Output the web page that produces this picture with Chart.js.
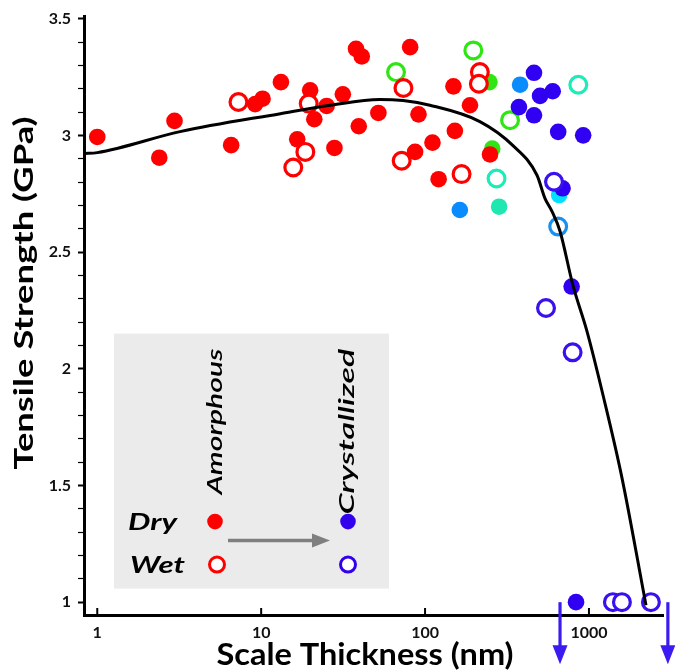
<!DOCTYPE html>
<html>
<head>
<meta charset="utf-8">
<script src="https://cdn.jsdelivr.net/npm/chart.js@4/dist/chart.umd.min.js"></script>
<style>
html,body{margin:0;padding:0;background:#fff;}
canvas{display:block;}
</style>
</head>
<body>
<canvas id="c" width="675" height="671"></canvas>
<script>
// ---- data (x: scale thickness in nm, y: tensile strength in GPa) ----
const thicknessTicks = [1, 10, 100, 1000];
const strengthTicks = [1, 1.5, 2, 2.5, 3, 3.5];
const strengthMinorTicks = [1,1.1,1.2,1.3,1.4,1.5,1.6,1.7,1.8,1.9,2,2.1,2.2,2.3,2.4,2.5,2.6,2.7,2.8,2.9,3,3.1,3.2,3.3,3.4,3.5];

const amorphousDry = [[1,2.994],[2.39,2.905],[2.96,3.063],[6.56,2.959],[9.19,3.135],[10.2,3.158],[13.2,3.229],[16.6,2.984],[19.9,3.194],[21.1,3.07],[25.1,3.127],[28,2.947],[31.5,3.177],[37.9,3.372],[41.1,3.339],[39.4,3.04],[51.9,3.097],[81.1,3.379],[91.2,3.091],[149,3.211],[188,3.13],[152,3.02],[111,2.97],[86.9,2.93],[121,2.813],[249,2.919]];
const amorphousWet = [[7.27,3.144],[19.5,3.137],[18.6,2.93],[15.7,2.863],[73.8,3.204],[72,2.892],[167,2.835],[216,3.272],[213,3.222]];
const transitionGreenDry = [[247,3.229],[257,2.944]];
const transitionGreenWet = [[66.5,3.272],[197,3.365],[330,3.066]];
const transitionMintDry = [[283,2.695]];
const transitionMintWet = [[273,2.816],[861,3.218]];
const transitionSkyDry = [[163,2.681],[380,3.218]];
const transitionCyanDry = [[658,2.745]];
const transitionSkyWet = [[649,2.61]];
const crystallizedDry = [[374,3.122],[462,3.269],[503,3.17],[601,3.19],[462,3.087],[649,3.016],[922,3.001],[690,2.774],[784,2.353],[834,1.0]];
const crystallizedWet = [[612,2.802],[547,2.261],[795,2.071],[1400,1.0],[1589,1.0],[2388,1.0]];
const fitCurve = [[0.83,2.923],[1,2.927],[3.2,3.017],[13.1,3.094],[26.4,3.13],[53,3.155],[73.5,3.15],[107,3.13],[216,3.06],[344,2.957],[482,2.83],[539,2.731],[595,2.675],[666,2.59],[798,2.359],[972,2.162],[1217,1.889],[1589,1.534],[2228,0.987]];
const offScaleArrows = [666, 3030];

const toXY = arr => arr.map(p => ({x: p[0], y: p[1]}));

function filled(data, color, order) {
  return {data: toXY(data), backgroundColor: color, borderColor: color, borderWidth: 0,
    pointRadius: 8.3, pointStyle: 'circle', showLine: false, order: order};
}
function hollow(data, color, order) {
  return {data: toXY(data), backgroundColor: '#ffffff', borderColor: color, borderWidth: 3.2,
    pointRadius: 8.4, pointStyle: 'circle', showLine: false, order: order};
}

function fitText(ctx, text, font, x, y, targetW, align, rotate) {
  ctx.save();
  ctx.translate(x, y);
  if (rotate) ctx.rotate(-Math.PI / 2);
  ctx.font = font;
  const w = ctx.measureText(text).width;
  ctx.scale(targetW / w, 1);
  ctx.textAlign = align;
  ctx.textBaseline = 'alphabetic';
  ctx.fillStyle = '#000';
  ctx.fillText(text, 0, 0);
  ctx.restore();
}

function dot(ctx, x, y, r, color, hollowRing) {
  ctx.beginPath();
  ctx.arc(x, y, r, 0, Math.PI * 2);
  if (hollowRing) {
    ctx.fillStyle = '#fff'; ctx.fill();
    ctx.lineWidth = 3; ctx.strokeStyle = color; ctx.stroke();
  } else {
    ctx.fillStyle = color; ctx.fill();
  }
}

const decorPlugin = {
  id: 'decor',
  beforeDatasetsDraw(chart) {
    const ctx = chart.ctx;
    const a = chart.chartArea;
    // legend box
    ctx.save();
    ctx.fillStyle = '#ebebeb';
    ctx.fillRect(a.left + 30, a.top + 317, 275, 255);
    ctx.restore();
  },
  afterDraw(chart) {
    const ctx = chart.ctx;
    const a = chart.chartArea;
    const xs = chart.scales.x, ys = chart.scales.y;
    // inward x ticks
    ctx.save();
    ctx.strokeStyle = '#000';
    ctx.lineWidth = 2;
    thicknessTicks.forEach(v => {
      const px = xs.getPixelForValue(v);
      ctx.beginPath(); ctx.moveTo(px, a.bottom); ctx.lineTo(px, a.bottom - 7); ctx.stroke();
    });
    ctx.restore();

    // off-scale arrows (blue)
    ctx.save();
    const arrowColor = '#3a1cf2';
    offScaleArrows.forEach(v => {
      const px = xs.getPixelForValue(v);
      const top = ys.getPixelForValue(1.0);
      const bot = top + 62;
      ctx.strokeStyle = arrowColor; ctx.fillStyle = arrowColor; ctx.lineWidth = 3.2;
      ctx.beginPath(); ctx.moveTo(px, top); ctx.lineTo(px, bot - 16); ctx.stroke();
      ctx.beginPath(); ctx.moveTo(px - 7.5, bot - 19); ctx.lineTo(px + 7.5, bot - 19); ctx.lineTo(px, bot); ctx.closePath(); ctx.fill();
    });
    ctx.restore();

    // legend contents
    const L = a.left, T = a.top;
    fitText(ctx, 'Amorphous', 'italic 600 21px Lato', L + 138, T + 332, 146, 'right', true);
    fitText(ctx, 'Crystallized', 'italic 600 21px Lato', L + 270, T + 332, 166, 'right', true);
    fitText(ctx, 'Dry', 'italic bold 22px Lato', L + 44, T + 513, 49, 'left', false);
    fitText(ctx, 'Wet', 'italic bold 22px Lato', L + 46, T + 556, 55, 'left', false);
    dot(ctx, L + 131, T + 505, 7.8, '#ff0000', false);
    dot(ctx, L + 133, T + 548, 7.5, '#ff0000', true);
    dot(ctx, L + 264, T + 505, 7.8, '#3300ee', false);
    dot(ctx, L + 264, T + 548, 7.5, '#3300ee', true);
    ctx.save();
    ctx.strokeStyle = '#7f7f7f'; ctx.fillStyle = '#7f7f7f'; ctx.lineWidth = 3.5;
    ctx.beginPath(); ctx.moveTo(L + 144, T + 524); ctx.lineTo(L + 230, T + 524); ctx.stroke();
    ctx.beginPath(); ctx.moveTo(L + 228, T + 517); ctx.lineTo(L + 246, T + 524); ctx.lineTo(L + 228, T + 531); ctx.closePath(); ctx.fill();
    ctx.restore();

    // axis titles
    fitText(ctx, 'Scale Thickness (nm)', 'bold 30px Lato', 365, 665, 297, 'center', false);
    fitText(ctx, 'Tensile Strength (GPa)', 'bold 26px Lato', 33, 293, 353, 'center', true);
  }
};

const tickFont = {family: 'Lato', weight: 'bold', size: 16};

new Chart(document.getElementById('c'), {
  type: 'scatter',
  data: {
    datasets: [
      {data: toXY(fitCurve), showLine: true, borderColor: '#000', borderWidth: 3, pointRadius: 0,
       cubicInterpolationMode: 'monotone', fill: false, order: 0},
      hollow(amorphousWet, '#ff0000', 1),
      filled(amorphousDry, '#ff0000', 2),
      hollow(crystallizedWet, '#3a10ee', 3),
      filled(crystallizedDry, '#3000f2', 4),
      hollow(transitionGreenWet, '#2ee612', 5),
      filled(transitionGreenDry, '#2ee612', 6),
      hollow(transitionMintWet, '#1eecb8', 7),
      filled(transitionMintDry, '#1ee8b0', 8),
      filled(transitionSkyDry, '#0a8cff', 9),
      hollow(transitionSkyWet, '#1890f0', 10),
      filled(transitionCyanDry, '#00e0ff', 11)
    ]
  },
  options: {
    responsive: false,
    animation: false,
    events: [],
    layout: {padding: {top: 15, right: 12, left: 0, bottom: 0}},
    plugins: {legend: {display: false}, tooltip: {enabled: false}, title: {display: false}},
    scales: {
      x: {
        type: 'logarithmic',
        min: 0.83, max: 2830,
        afterBuildTicks: s => { s.ticks = thicknessTicks.map(v => ({value: v})); },
        afterFit: s => { s.height = 56; },
        grid: {display: false, drawTicks: false},
        border: {display: true, color: '#000', width: 3},
        ticks: {font: tickFont, color: '#111', padding: 8, autoSkip: false, maxRotation: 0,
                callback: v => String(v)}
      },
      y: {
        type: 'linear',
        min: 0.945, max: 3.51,
        afterBuildTicks: s => { s.ticks = strengthMinorTicks.map(v => ({value: v})); },
        afterFit: s => { s.width = 84; },
        grid: {display: true, drawOnChartArea: false, drawTicks: true, tickLength: 6,
               tickColor: '#000',
               tickWidth: c => (strengthTicks.some(t => Math.abs(t - c.tick.value) < 1e-6) ? 2 : 1.2)},
        border: {display: true, color: '#000', width: 3},
        ticks: {font: tickFont, color: '#111', padding: 7, autoSkip: false,
                callback: v => (strengthTicks.some(t => Math.abs(t - v) < 1e-6) ? String(v) : '')}
      }
    }
  },
  plugins: [decorPlugin]
});
</script>
</body>
</html>
